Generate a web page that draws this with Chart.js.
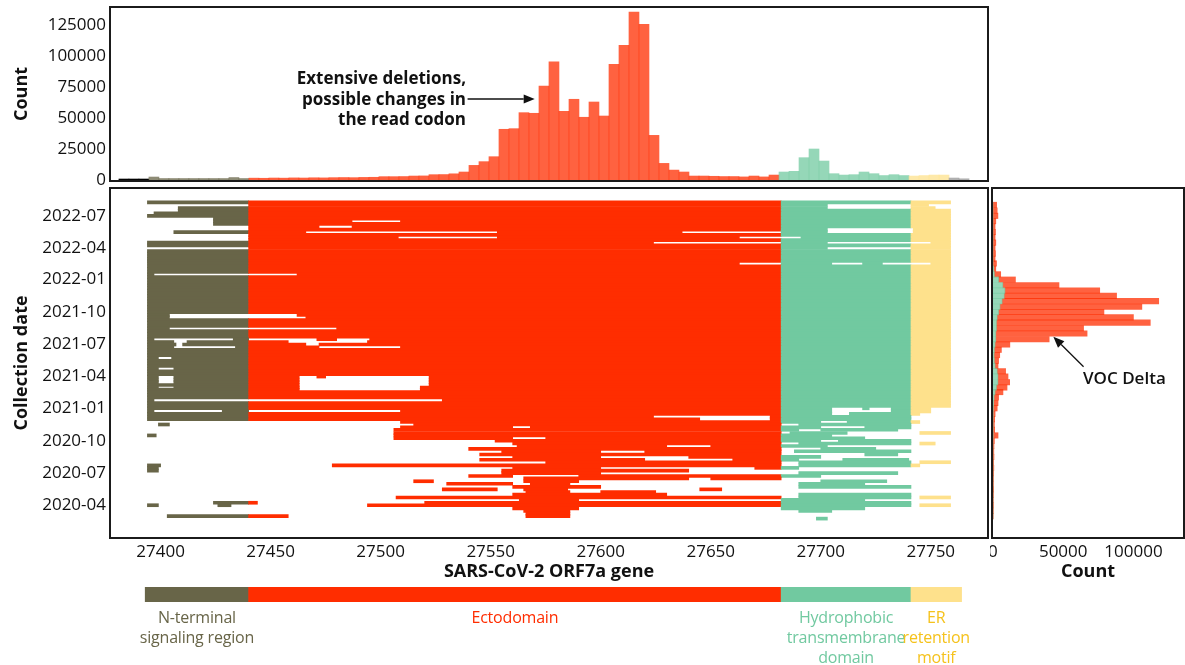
<!DOCTYPE html>
<html>
<head>
<meta charset="utf-8">
<title>ORF7a deletions</title>
<script src="https://cdn.jsdelivr.net/npm/chart.js@4.4.1/dist/chart.umd.min.js"></script>
<style>
  body { margin: 0; background: #fff; }
  #wrap { position: relative; width: 1185px; height: 665px; overflow: hidden; font-family: 'Open Sans', sans-serif; }
  #wrap canvas { position: absolute; }
  .domain { position: absolute; transform: translateX(-50%); text-align: center; white-space: nowrap; font-size: 16px; line-height: 20px; letter-spacing: -0.2px; }
  .note { position: absolute; font-weight: 700; font-size: 17px; line-height: 20.5px; color: #111; white-space: nowrap; }
</style>
</head>
<body>
<div id="wrap">
  <canvas id="topChart" width="990" height="186" style="left:0;top:0"></canvas>
  <canvas id="mainChart" width="990" height="400" style="left:0;top:186px"></canvas>
  <canvas id="sideChart" width="195" height="400" style="left:990px;top:186px"></canvas>
  <canvas id="domainChart" width="990" height="79" style="left:0;top:586px"></canvas>
  <div class="note" style="right:719px;top:68px;text-align:right">Extensive deletions,<br>possible changes in<br>the read codon</div>
  <div class="note" style="left:1083px;top:368px;font-weight:600">VOC Delta</div>
</div>
<script>
// ORF7a domains (genome positions)
const domainNames = ['N-terminal\nsignaling region', 'Ectodomain', 'Hydrophobic\ntransmembrane\ndomain', 'ER\nretention\nmotif'];
const domainStart = [27393, 27440, 27682, 27741];
const domainEnd = [27440, 27682, 27741, 27764];
const geneEnd = 27759;

const geneTicks = [27400, 27450, 27500, 27550, 27600, 27650, 27700, 27750];
const dateTicks = ['2020-04', '2020-07', '2020-10', '2021-01', '2021-04', '2021-07', '2021-10', '2022-01', '2022-04', '2022-07'];
const countTicksTop = [0, 25000, 50000, 75000, 100000, 125000];
const countTicksSide = [0, 50000, 100000];

// histogram of deleted positions (top panel)
const binStart = 27381.05;
const binWidth = 4.545;
const binCounts = [800, 800, 800, 2400, 1200, 1200, 1200, 1200, 1200, 1200, 1200, 2000, 1200,
  1500, 1400, 1600, 1500, 1700, 1600, 1800, 1700, 1900, 2000, 1900, 2100, 2200,
  2700, 2700, 2800, 3200, 3300, 4300, 4400, 5000, 6450,
  11800, 14800, 18800, 40900, 41400, 54300, 53800, 75800, 95200, 55400, 65100, 50600, 62900, 51600,
  93300, 108600, 135500, 125600, 36000, 13400, 8000, 6450,
  3200, 3200, 3000, 2800, 2800, 2500, 3200, 2500, 4000,
  6450, 7000, 18000, 25000, 15300, 5100, 4000, 4300, 6450, 5100, 3600, 4300, 3600,
  3200, 3600, 4000, 4000, 1600, 1000];

// counts per collection date (side panel), semi-monthly bins
const sideDates = ['2020-03-01', '2020-03-16', '2020-04-01', '2020-04-16', '2020-05-01', '2020-05-16', '2020-06-01', '2020-06-16',
  '2020-07-01', '2020-07-16', '2020-08-01', '2020-08-16', '2020-09-01', '2020-09-16', '2020-10-01', '2020-10-16',
  '2020-11-01', '2020-11-16', '2020-12-01', '2020-12-16',
  '2021-01-01', '2021-01-16', '2021-02-01', '2021-02-16', '2021-03-01', '2021-03-16', '2021-04-01', '2021-04-16',
  '2021-05-01', '2021-05-16', '2021-06-01', '2021-06-16', '2021-07-01', '2021-07-16', '2021-08-01', '2021-08-16',
  '2021-09-01', '2021-09-16', '2021-10-01', '2021-10-16', '2021-11-01', '2021-11-16', '2021-12-01', '2021-12-16',
  '2022-01-01', '2022-01-16', '2022-02-01', '2022-02-16', '2022-03-01', '2022-03-16', '2022-04-01', '2022-04-16',
  '2022-05-01', '2022-05-16', '2022-06-01', '2022-06-16', '2022-07-01', '2022-07-16', '2022-08-01'];
const sideHydro = [0, 0, 0, 0, 0, 0, 0, 0, 0, 0, 0, 0, 0, 0, 0, 200, 100, 100, 100, 200,
  300, 500, 800, 1500, 2500, 3500, 3500, 3000, 1500, 1000, 800, 1000, 1500, 2000, 2000, 2500,
  2500, 3000, 4000, 5000, 6500, 8000, 8500, 7000,
  4000, 1000, 500, 0, 0, 0, 0, 0, 0, 0, 0, 0, 0, 0, 0];
const sideEcto = [200, 300, 400, 300, 400, 500, 400, 400, 500, 600, 500, 700, 600, 700, 1000, 3400, 1100, 900, 1100, 1300,
  2700, 3100, 3200, 5600, 7500, 8400, 7200, 6000, 2100, 3000, 4000, 5000, 10500, 38000, 65000, 62000,
  109500, 97000, 75000, 101000, 111500, 80000, 67500, 40000,
  12000, 4500, 1500, 2500, 1500, 1800, 1500, 2000, 1500, 1800, 1500, 2000, 3500, 3000, 2600];

// deletions per collection date: [date, start1, end1, start2, end2, ...]
const rows = [
  ['2022-08-08', 27394, 27759],
  ['2022-08-01', 27440, 27703, 27741, 27749],
  ['2022-07-23', 27408, 27703, 27741, 27752],
  ['2022-07-16', 27408, 27759],
  ['2022-07-08', 27397, 27759],
  ['2022-07-01', 27394, 27759],
  ['2022-06-23', 27424, 27759],
  ['2022-06-16', 27424, 27487, 27509, 27759],
  ['2022-06-08', 27424, 27759],
  ['2022-06-01', 27440, 27472, 27487, 27759],
  ['2022-05-23', 27440, 27703, 27742, 27759],
  ['2022-05-16', 27406, 27466, 27553, 27637, 27682, 27703, 27742, 27759],
  ['2022-05-08', 27440, 27759],
  ['2022-05-01', 27440, 27508, 27553, 27663, 27691, 27759],
  ['2022-04-23', 27440, 27759],
  ['2022-04-16', 27394, 27624, 27682, 27703, 27750, 27759],
  ['2022-04-08', 27394, 27759],
  ['2022-04-01', 27440, 27703, 27741, 27759],
  ['2022-03-23', 27394, 27759],
  ['2022-03-16', 27394, 27759],
  ['2022-03-08', 27394, 27759],
  ['2022-03-01', 27394, 27759],
  ['2022-02-23', 27394, 27759],
  ['2022-02-16', 27394, 27663, 27682, 27705, 27719, 27728, 27750, 27759],
  ['2022-02-08', 27394, 27759],
  ['2022-02-01', 27394, 27759],
  ['2022-01-23', 27394, 27759],
  ['2022-01-16', 27394, 27397, 27462, 27759],
  ['2022-01-08', 27394, 27759],
  ['2022-01-01', 27394, 27759],
  ['2021-12-23', 27394, 27759],
  ['2021-12-16', 27394, 27759],
  ['2021-12-08', 27394, 27759],
  ['2021-12-01', 27394, 27759],
  ['2021-11-23', 27394, 27759],
  ['2021-11-16', 27394, 27759],
  ['2021-11-08', 27394, 27759],
  ['2021-11-01', 27394, 27759],
  ['2021-10-23', 27394, 27759],
  ['2021-10-16', 27394, 27759],
  ['2021-10-08', 27394, 27759],
  ['2021-10-01', 27394, 27759],
  ['2021-09-23', 27394, 27404, 27462, 27759],
  ['2021-09-16', 27394, 27404, 27466, 27759],
  ['2021-09-08', 27394, 27759],
  ['2021-09-01', 27394, 27759],
  ['2021-08-23', 27394, 27759],
  ['2021-08-16', 27394, 27404, 27480, 27759],
  ['2021-08-08', 27394, 27759],
  ['2021-08-01', 27394, 27759],
  ['2021-07-23', 27394, 27759],
  ['2021-07-16', 27394, 27397, 27433, 27440, 27471, 27480, 27495, 27759],
  ['2021-07-08', 27394, 27406, 27412, 27458, 27494, 27759],
  ['2021-07-01', 27394, 27407, 27410, 27466, 27472, 27759],
  ['2021-06-23', 27394, 27406, 27434, 27472, 27509, 27759],
  ['2021-06-16', 27394, 27759],
  ['2021-06-08', 27394, 27759],
  ['2021-06-01', 27394, 27759],
  ['2021-05-23', 27394, 27399, 27405, 27759],
  ['2021-05-16', 27394, 27759],
  ['2021-05-08', 27394, 27759],
  ['2021-05-01', 27394, 27759],
  ['2021-04-23', 27394, 27399, 27406, 27759],
  ['2021-04-16', 27394, 27759],
  ['2021-04-08', 27394, 27759],
  ['2021-04-01', 27394, 27399, 27406, 27463, 27471, 27475, 27522, 27759],
  ['2021-03-23', 27394, 27399, 27406, 27463, 27522, 27759],
  ['2021-03-16', 27394, 27399, 27406, 27463, 27522, 27759],
  ['2021-03-08', 27394, 27463, 27522, 27759],
  ['2021-03-01', 27394, 27399, 27406, 27463, 27518, 27759],
  ['2021-02-23', 27394, 27463, 27518, 27759],
  ['2021-02-16', 27394, 27759],
  ['2021-02-08', 27394, 27759],
  ['2021-02-01', 27394, 27759],
  ['2021-01-23', 27394, 27397, 27528, 27759],
  ['2021-01-16', 27394, 27759],
  ['2021-01-08', 27394, 27759],
  ['2021-01-01', 27394, 27705, 27719, 27722, 27732, 27750],
  ['2020-12-23', 27394, 27397, 27428, 27440, 27509, 27705, 27732, 27750],
  ['2020-12-16', 27394, 27705, 27713, 27745],
  ['2020-12-08', 27394, 27624, 27677, 27741],
  ['2020-12-01', 27394, 27645, 27677, 27741],
  ['2020-11-23', 27509, 27700, 27712, 27745],
  ['2020-11-16', 27399, 27404, 27515, 27682, 27690, 27741],
  ['2020-11-08', 27509, 27560, 27568, 27700, 27720, 27741],
  ['2020-11-01', 27506, 27690, 27700, 27735],
  ['2020-10-23', 27506, 27682, 27686, 27712, 27745, 27759],
  ['2020-10-16', 27394, 27398, 27506, 27705],
  ['2020-10-08', 27506, 27560, 27575, 27720],
  ['2020-10-01', 27552, 27700, 27708, 27741],
  ['2020-09-23', 27560, 27682, 27690, 27741, 27745, 27752],
  ['2020-09-16', 27562, 27630, 27650, 27703],
  ['2020-09-08', 27540, 27682, 27700, 27725],
  ['2020-09-01', 27555, 27600, 27620, 27682, 27688, 27741],
  ['2020-08-23', 27545, 27682, 27720, 27735],
  ['2020-08-16', 27560, 27600, 27640, 27700],
  ['2020-08-08', 27545, 27620, 27660, 27690, 27710, 27740],
  ['2020-08-01', 27575, 27682, 27690, 27741, 27745, 27759],
  ['2020-07-23', 27394, 27400, 27478, 27682, 27690, 27745],
  ['2020-07-16', 27394, 27399, 27560, 27600, 27670, 27690],
  ['2020-07-08', 27394, 27399, 27555, 27640],
  ['2020-07-01', 27555, 27600, 27690, 27735],
  ['2020-06-23', 27540, 27560, 27590, 27700],
  ['2020-06-16', 27565, 27640, 27650, 27682],
  ['2020-06-08', 27515, 27524, 27565, 27590, 27700, 27730],
  ['2020-06-01', 27530, 27560, 27568, 27586, 27690, 27720],
  ['2020-05-23', 27560, 27600, 27690, 27741],
  ['2020-05-16', 27528, 27553, 27565, 27585, 27645, 27655],
  ['2020-05-08', 27566, 27586, 27600, 27625],
  ['2020-05-01', 27560, 27630, 27690, 27741],
  ['2020-04-23', 27507, 27682, 27690, 27741, 27745, 27759],
  ['2020-04-16', 27563, 27590, 27682, 27720],
  ['2020-04-08', 27424, 27444, 27520, 27741],
  ['2020-04-01', 27394, 27399, 27426, 27432, 27494, 27741, 27745, 27759],
  ['2020-03-23', 27560, 27590, 27682, 27720],
  ['2020-03-16', 27565, 27586, 27690, 27705],
  ['2020-03-08', 27566, 27586],
  ['2020-03-01', 27403, 27458, 27566, 27586],
  ['2020-02-23', 27698, 27703]
];

// axis limits
const posMin = 27377, posMax = 27776;
const dateMin = '2019-12-30', dateMax = '2022-09-18';

const domainColors = ['#686548', '#ff2d00', '#71c9a0', '#fee18c'];
const histColors = ['rgba(104,101,72,0.75)', 'rgba(255,45,0,0.75)', 'rgba(113,201,160,0.75)', 'rgba(254,225,140,0.75)'];
const outsideColor = 'rgba(150,150,150,0.75)';

const DAY0 = Date.UTC(2020, 0, 1);
function dayOf(s) {
  const [y, m, d] = s.split('-').map(Number);
  return (Date.UTC(y, m - 1, d || 1) - DAY0) / 86400000;
}
function domainOf(pos) {
  return domainStart.findIndex((s, k) => pos >= s && pos < domainEnd[k]);
}

Chart.defaults.font.family = "'Open Sans', sans-serif";
Chart.defaults.color = '#111';

const tickFont = { size: 17 };
const titleFont = { size: 18, weight: 'bold' };
const noGrid = { display: false, drawTicks: false };
const plain = v => String(v);

// keep chart areas exactly where the layout wants them
function fixWidth(w) {
  return s => { s.width = w; s.paddingTop = 0; s.paddingBottom = 0; };
}
function fixHeight(h) {
  return s => { s.height = h; s.paddingLeft = 0; s.paddingRight = 0; };
}

const framePlugin = {
  id: 'frame',
  afterDraw(chart) {
    const { ctx, chartArea: a } = chart;
    ctx.save();
    ctx.strokeStyle = '#1b1b1b';
    ctx.lineWidth = 2;
    ctx.strokeRect(a.left, a.top, a.right - a.left, a.bottom - a.top);
    ctx.restore();
  }
};

const arrowPlugin = {
  id: 'arrow',
  afterDraw(chart, args, opts) {
    if (!opts.from) return;
    const { ctx, scales } = chart;
    const x0 = scales.x.getPixelForValue(opts.from[0]), y0 = scales.y.getPixelForValue(opts.from[1]);
    const x1 = scales.x.getPixelForValue(opts.to[0]), y1 = scales.y.getPixelForValue(opts.to[1]);
    const ang = Math.atan2(y1 - y0, x1 - x0);
    const len = 11, half = 4.5;
    ctx.save();
    ctx.strokeStyle = '#111';
    ctx.fillStyle = '#111';
    ctx.lineWidth = 1.3;
    ctx.beginPath();
    ctx.moveTo(x0, y0);
    ctx.lineTo(x1 - len * Math.cos(ang), y1 - len * Math.sin(ang));
    ctx.stroke();
    ctx.beginPath();
    ctx.moveTo(x1, y1);
    ctx.lineTo(x1 - len * Math.cos(ang) + half * Math.sin(ang), y1 - len * Math.sin(ang) - half * Math.cos(ang));
    ctx.lineTo(x1 - len * Math.cos(ang) - half * Math.sin(ang), y1 - len * Math.sin(ang) + half * Math.cos(ang));
    ctx.closePath();
    ctx.fill();
    ctx.restore();
  }
};

// top: histogram of positions
const binCenters = binCounts.map((c, k) => binStart + (k + 0.5) * binWidth);
new Chart(document.getElementById('topChart'), {
  type: 'bar',
  data: {
    datasets: [{
      data: binCounts.map((c, k) => ({ x: binCenters[k], y: c })),
      backgroundColor: binCenters.map(p => p >= geneEnd ? outsideColor : histColors[domainOf(p)]),
      barPercentage: 1,
      categoryPercentage: 1
    }]
  },
  options: {
    responsive: false,
    animation: false,
    layout: { padding: { top: 7, right: 2, bottom: 5, left: 0 } },
    plugins: {
      legend: { display: false },
      tooltip: { enabled: false },
      arrow: { from: [27539.5, 65300], to: [27570, 65300] }
    },
    scales: {
      x: { type: 'linear', min: posMin, max: posMax, display: false, offset: false },
      y: {
        min: -800, max: 139500,
        grid: noGrid,
        border: { display: false },
        ticks: { font: tickFont, padding: 4, callback: plain },
        afterBuildTicks: s => { s.ticks = countTicksTop.map(v => ({ value: v })); },
        afterFit: fixWidth(110),
        title: { display: true, text: 'Count', font: titleFont, padding: { top: 11, bottom: 0 } }
      }
    }
  },
  plugins: [framePlugin, arrowPlugin]
});

// main: deletion segments split by domain
const pieces = [];
rows.forEach(([date, ...ends]) => {
  const day = dayOf(date);
  for (let i = 0; i < ends.length; i += 2) {
    domainStart.forEach((s, k) => {
      const lo = Math.max(ends[i], s), hi = Math.min(ends[i + 1], domainEnd[k]);
      if (hi > lo) pieces.push({ x: [lo, hi], y: day, k });
    });
  }
});

new Chart(document.getElementById('mainChart'), {
  type: 'bar',
  data: {
    datasets: [{
      data: pieces,
      backgroundColor: pieces.map(p => domainColors[p.k]),
      barThickness: 3,
      borderSkipped: false
    }]
  },
  options: {
    indexAxis: 'y',
    responsive: false,
    animation: false,
    layout: { padding: { top: 2, right: 2, bottom: 0, left: 0 } },
    plugins: { legend: { display: false }, tooltip: { enabled: false } },
    scales: {
      x: {
        type: 'linear', min: posMin, max: posMax, offset: false,
        grid: noGrid,
        border: { display: false },
        ticks: { font: tickFont, padding: 4, maxRotation: 0, autoSkip: false, callback: plain },
        afterBuildTicks: s => { s.ticks = geneTicks.map(v => ({ value: v })); },
        afterFit: fixHeight(48),
        title: { display: true, text: 'SARS-CoV-2 ORF7a gene', font: titleFont, padding: { top: 0, bottom: 3 } }
      },
      y: {
        type: 'linear', min: dayOf(dateMin), max: dayOf(dateMax), offset: false,
        grid: noGrid,
        border: { display: false },
        ticks: { font: tickFont, padding: 4, autoSkip: false, callback: (v, i) => dateTicks[i] },
        afterBuildTicks: s => { s.ticks = dateTicks.map(t => ({ value: dayOf(t) })); },
        afterFit: fixWidth(110),
        title: { display: true, text: 'Collection date', font: titleFont, padding: { top: 11, bottom: 0 } }
      }
    }
  },
  plugins: [framePlugin]
});

// side: counts per collection date
const sideDays = sideDates.map(dayOf);
new Chart(document.getElementById('sideChart'), {
  type: 'bar',
  data: {
    datasets: [
      { data: sideHydro.map((c, i) => ({ x: c, y: sideDays[i] })), backgroundColor: histColors[2], stack: 's', barThickness: 5.4 },
      { data: sideEcto.map((c, i) => ({ x: c, y: sideDays[i] })), backgroundColor: histColors[1], stack: 's', barThickness: 5.4 }
    ]
  },
  options: {
    indexAxis: 'y',
    responsive: false,
    animation: false,
    layout: { padding: { top: 2, right: 1, bottom: 0, left: 2 } },
    plugins: {
      legend: { display: false },
      tooltip: { enabled: false },
      arrow: { from: [64500, 484], to: [43000, 569] }
    },
    scales: {
      x: {
        type: 'linear', min: -700, max: 136000, stacked: true,
        grid: noGrid,
        border: { display: false },
        ticks: { font: tickFont, padding: 4, maxRotation: 0, autoSkip: false, callback: plain },
        afterBuildTicks: s => { s.ticks = countTicksSide.map(v => ({ value: v })); },
        afterFit: fixHeight(48),
        title: { display: true, text: 'Count', font: titleFont, padding: { top: 0, bottom: 3 } }
      },
      y: { type: 'linear', min: dayOf(dateMin), max: dayOf(dateMax), display: false, offset: false, stacked: true }
    }
  },
  plugins: [framePlugin, arrowPlugin]
});

// bottom: domain map of the gene
const domainChart = new Chart(document.getElementById('domainChart'), {
  type: 'bar',
  data: {
    labels: ['ORF7a'],
    datasets: [{
      data: domainStart.map((s, k) => ({ x: [s, domainEnd[k]], y: 'ORF7a' })),
      backgroundColor: domainColors,
      barPercentage: 1,
      categoryPercentage: 1,
      borderSkipped: false
    }]
  },
  options: {
    indexAxis: 'y',
    responsive: false,
    animation: false,
    layout: { padding: { top: 1, right: 2, bottom: 63, left: 110 } },
    plugins: { legend: { display: false }, tooltip: { enabled: false } },
    scales: {
      x: { type: 'linear', min: posMin, max: posMax, display: false },
      y: { display: false }
    }
  }
});

// domain names under the bar
const wrap = document.getElementById('wrap');
domainNames.forEach((name, k) => {
  const div = document.createElement('div');
  div.className = 'domain';
  div.style.color = k === 3 ? '#f5c21c' : domainColors[k];
  div.style.left = domainChart.scales.x.getPixelForValue((domainStart[k] + domainEnd[k]) / 2) + 'px';
  div.style.top = '607px';
  div.innerHTML = name.split('\n').join('<br>');
  wrap.appendChild(div);
});
</script>
</body>
</html>
